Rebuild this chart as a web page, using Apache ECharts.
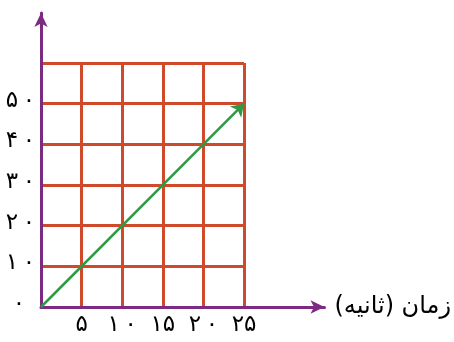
<!DOCTYPE html>
<html>
<head>
<meta charset="utf-8">
<script src="https://cdn.jsdelivr.net/npm/echarts@6/dist/echarts.min.js"></script>
<style>html,body{margin:0;padding:0;background:#fff}#c{width:454px;height:342px}</style>
</head>
<body>
<div id="c"></div>
<script>
var xTicks = [0, 5, 10, 15, 20, 25];
var xTickLabels = ['', '۵', '۱\u2009۰', '۱۵', '۲\u2009۰', '۲۵'];
var yTicks = [0, 10, 20, 30, 40, 50, 60];
var yTickLabels = ['۰', '۱\u2009۰', '۲\u2009۰', '۳\u2009۰', '۴\u2009۰', '۵\u2009۰', ''];
var lineTimes = [0, 25];
var lineValues = [0, 50];
var xAxisName = 'زمان (ثانیه)';

var RED = '#cf4a2b', PURPLE = '#7d2b82', GREEN = '#2f9a45';
var FONT = 'DejaVu Sans';

var chart = echarts.init(document.getElementById('c'), null, {renderer: 'canvas'});
chart.setOption({
  animation: false,
  grid: [
    {left: 41, top: 63, width: 203, height: 244},
    {left: 41, top: 13, width: 284, height: 294}
  ],
  xAxis: [
    {gridIndex: 0, type: 'value', min: xTicks[0], max: xTicks[xTicks.length - 1], interval: 5,
     axisLine: {show: false}, axisTick: {show: false},
     splitLine: {show: true, lineStyle: {color: RED, width: 3}},
     axisLabel: {margin: 7, color: '#000', fontFamily: FONT, fontSize: 23,
       formatter: function (v) { return xTickLabels[xTicks.indexOf(v)] || ''; }}},
    {gridIndex: 1, type: 'value', min: 0, max: 1,
     axisLine: {show: true, symbol: ['none', 'arrow'], symbolSize: [10, 14], lineStyle: {color: PURPLE, width: 3}},
     axisTick: {show: false}, axisLabel: {show: false}, splitLine: {show: false},
     name: xAxisName, nameLocation: 'end', nameGap: 10,
     nameTextStyle: {color: '#000', fontFamily: FONT, fontSize: 24}}
  ],
  yAxis: [
    {gridIndex: 0, type: 'value', min: yTicks[0], max: yTicks[yTicks.length - 1], interval: 10,
     axisLine: {show: false}, axisTick: {show: false},
     splitLine: {show: true, lineStyle: {color: RED, width: 3}},
     axisLabel: {margin: 6, color: '#000', fontFamily: FONT, fontSize: 23, padding: [0, 0, 6, 0],
       formatter: function (v) {
         var i = yTicks.indexOf(v);
         if (i === 0) return '{z|' + yTickLabels[0] + '}';
         return yTickLabels[i] || '';
       },
       rich: {z: {fontFamily: FONT, fontSize: 23, color: '#000', padding: [0, 10, 0, 0]}}}},
    {gridIndex: 1, type: 'value', min: 0, max: 1,
     axisLine: {show: true, symbol: ['none', 'arrow'], symbolSize: [10, 14], lineStyle: {color: PURPLE, width: 3}},
     axisTick: {show: false}, axisLabel: {show: false}, splitLine: {show: false}}
  ],
  series: [
    {type: 'lines', coordinateSystem: 'cartesian2d', xAxisIndex: 0, yAxisIndex: 0,
     symbol: ['none', 'arrow'], symbolSize: 12,
     lineStyle: {color: GREEN, width: 2.5, opacity: 1},
     data: [{coords: [[lineTimes[0], lineValues[0]], [lineTimes[1], lineValues[1]]]}]}
  ]
});
</script>
</body>
</html>
